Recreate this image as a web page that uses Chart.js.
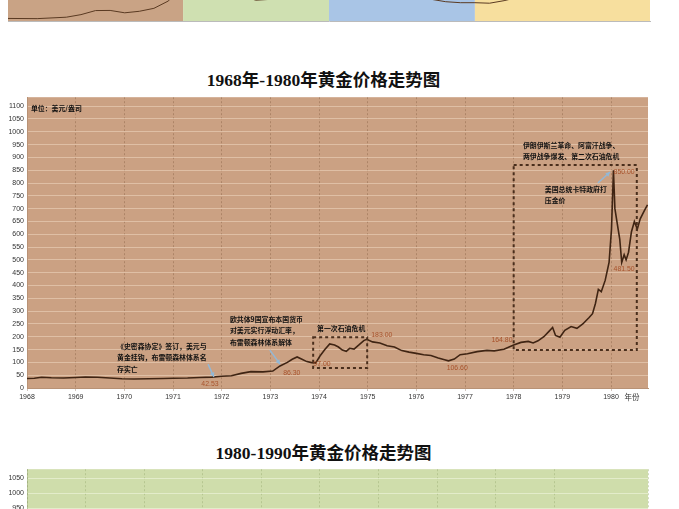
<!DOCTYPE html>
<html>
<head>
<meta charset="utf-8">
<script src="https://cdn.jsdelivr.net/npm/chart.js@4.4.0/dist/chart.umd.min.js"></script>
<style>
  html, body { margin: 0; padding: 0; background: #fff; width: 679px; height: 509px; overflow: hidden; position: relative; }
  canvas { position: absolute; left: 0; }
  .title { position: absolute; left: -16px; width: 679px; text-align: center; line-height: 20px;
           font-family: "Liberation Serif", "Noto Sans CJK SC", serif; font-weight: bold; font-size: 17.5px; color: #111; }
</style>
</head>
<body>
<canvas id="stripChart" width="679" height="30" style="top:0"></canvas>
<div class="title" style="top:70px">1968年-1980年黄金价格走势图</div>
<canvas id="goldChart" width="679" height="320" style="top:90px"></canvas>
<div class="title" style="top:443px">1980-1990年黄金价格走势图</div>
<canvas id="nextChart" width="679" height="352" style="top:462px"></canvas>
<script>
// 1968-1980 gold price (USD/oz)
const priceYears = [
  1968.00, 1968.15, 1968.30, 1968.50, 1968.75, 1969.00, 1969.20, 1969.45, 1969.70, 1969.95,
  1970.20, 1970.50, 1970.80, 1971.00, 1971.30, 1971.55, 1971.80, 1972.00, 1972.20, 1972.40,
  1972.60, 1972.85, 1973.05, 1973.20, 1973.35, 1973.45, 1973.55, 1973.65, 1973.75, 1973.85,
  1973.93, 1974.02, 1974.12, 1974.22, 1974.32, 1974.40, 1974.48, 1974.56, 1974.63, 1974.72,
  1974.82, 1974.92, 1974.98, 1975.10, 1975.25, 1975.40, 1975.55, 1975.70, 1975.85, 1976.00,
  1976.15, 1976.30, 1976.45, 1976.58, 1976.66, 1976.78, 1976.90, 1977.05, 1977.25, 1977.45,
  1977.60, 1977.80, 1978.00, 1978.15, 1978.30, 1978.40, 1978.50, 1978.62, 1978.72, 1978.80,
  1978.86, 1978.95, 1979.05, 1979.18, 1979.30, 1979.42, 1979.55, 1979.62, 1979.68, 1979.74,
  1979.80, 1979.88, 1979.96, 1980.01, 1980.05, 1980.08, 1980.13, 1980.18, 1980.22, 1980.27,
  1980.31, 1980.36, 1980.42, 1980.48, 1980.54, 1980.60, 1980.68, 1980.75
];
const priceValues = [
  37, 38, 42, 40, 39, 41, 43, 42, 39, 36,
  35, 36, 37, 38, 39, 41, 42.5, 46, 48, 57,
  64, 63, 66, 86, 100, 112, 121, 112, 103, 99,
  97, 125, 150, 172, 168, 160, 148, 143, 155, 152,
  168, 185, 190, 180, 176, 165, 160, 146, 140, 135,
  130, 127, 117, 110, 106, 113, 130, 134, 142, 147,
  145, 151, 168, 178, 182, 176, 184, 200, 220, 236,
  205, 198, 225, 240, 233, 250, 275, 290, 330, 385,
  376, 420, 490, 620, 850, 700, 640, 580, 490, 520,
  500, 530, 610, 650, 620, 660, 690, 715
];
const yearTicks = [1968, 1969, 1970, 1971, 1972, 1973, 1974, 1975, 1976, 1977, 1978, 1979, 1980];

// labelled prices: [year, value, text]
const priceLabels = [
  [1971.76, 16, '42.53'], [1973.44, 58, '86.30'], [1974.06, 93, '97.00'], [1975.29, 206, '183.00'],
  [1976.84, 78, '106.60'], [1977.76, 187, '164.80'], [1980.27, 843, '850.00'], [1980.27, 466, '481.50']
];
// event notes: [year, value, lines]
const eventNotes = [
  [1968.08, 1092, ['单位：美元/盎司']],
  [1969.85, 163, ['《史密森协定》签订，美元与', '黄金挂钩，布雷顿森林体系名', '存实亡']],
  [1972.17, 268, ['欧共体9国宣布本国货币', '对美元实行浮动汇率，', '布雷顿森林体系解体']],
  [1973.96, 233, ['第一次石油危机']],
  [1978.19, 948, ['伊朗伊斯兰革命、阿富汗战争、', '两伊战争爆发、第二次石油危机']],
  [1978.64, 777, ['美国总统卡特政府打', '压金价']]
];
// dashed boxes: [fromYear, toYear, low, high]
const crisisBoxes = [[1973.88, 1974.99, 78, 198], [1978.0, 1980.53, 148, 870]];
// arrows: [fromYear, fromValue, toYear, toValue]
const noteArrows = [[1971.72, 93, 1971.84, 43], [1972.99, 148, 1973.2, 93], [1979.73, 800, 1979.98, 843]];

// 1980-1990 (only the top of this chart is on screen)
const decadeYears = [1980, 1981, 1982, 1983, 1984, 1985, 1986, 1987, 1988, 1989, 1990];
const decadeValues = [615, 460, 376, 424, 360, 317, 368, 447, 437, 381, 383];

// overview strip at the top
const overviewYears = [1968, 1970, 1972, 1973, 1974, 1975, 1976, 1977, 1978, 1979, 1980, 1985, 1990, 1995, 1996, 1997, 1998, 1999, 2000, 2001, 2002, 2003, 2005, 2008, 2011];
const overviewValues = [39, 36, 58, 97, 159, 161, 125, 148, 193, 306, 615, 317, 383, 384, 388, 331, 294, 279, 279, 271, 310, 363, 445, 872, 1571];
const overviewBands = [[1968, 1980, '#c9a385'], [1980, 1990, '#cfe0b1'], [1990, 2000, '#a9c5e6'], [2000, 2012, '#f7df9e']];

const plotBg = {
  id: 'plotBg',
  beforeDraw(chart, args, opts) {
    const a = chart.chartArea, ctx = chart.ctx;
    const x = chart.scales.x;
    ctx.save();
    if (opts.bands) {
      opts.bands.forEach(b => {
        const l = x.getPixelForValue(b[0]), r = x.getPixelForValue(b[1]);
        ctx.fillStyle = b[2];
        ctx.fillRect(l, a.top, r - l, a.bottom - a.top);
      });
    } else if (opts.color) {
      ctx.fillStyle = opts.color;
      ctx.fillRect(a.left, a.top, a.right - a.left, a.bottom - a.top);
    }
    ctx.restore();
  }
};

const notes = {
  id: 'notes',
  afterDatasetsDraw(chart) {
    if (chart.canvas.id !== 'goldChart') return;
    const ctx = chart.ctx, x = chart.scales.x, y = chart.scales.y, a = chart.chartArea;
    ctx.save();
    // dashed boxes
    ctx.strokeStyle = '#4a2e1c';
    ctx.lineWidth = 2;
    ctx.setLineDash([3, 3]);
    crisisBoxes.forEach(b => {
      const l = x.getPixelForValue(b[0]), r = x.getPixelForValue(b[1]);
      const t = y.getPixelForValue(b[3]), btm = y.getPixelForValue(b[2]);
      ctx.strokeRect(l, t, r - l, btm - t);
    });
    ctx.setLineDash([]);
    // arrows
    ctx.strokeStyle = '#93b8d6';
    ctx.fillStyle = '#93b8d6';
    ctx.lineWidth = 1.5;
    noteArrows.forEach(n => {
      const x1 = x.getPixelForValue(n[0]), y1 = y.getPixelForValue(n[1]);
      const x2 = x.getPixelForValue(n[2]), y2 = y.getPixelForValue(n[3]);
      const ang = Math.atan2(y2 - y1, x2 - x1);
      ctx.beginPath();
      ctx.moveTo(x1, y1);
      ctx.lineTo(x2, y2);
      ctx.stroke();
      ctx.beginPath();
      ctx.moveTo(x2, y2);
      ctx.lineTo(x2 - 5 * Math.cos(ang - 0.5), y2 - 5 * Math.sin(ang - 0.5));
      ctx.lineTo(x2 - 5 * Math.cos(ang + 0.5), y2 - 5 * Math.sin(ang + 0.5));
      ctx.closePath();
      ctx.fill();
    });
    // notes
    ctx.fillStyle = '#111';
    ctx.font = 'bold 6.9px "Noto Sans CJK SC", sans-serif';
    ctx.textAlign = 'left';
    ctx.textBaseline = 'middle';
    eventNotes.forEach(n => {
      const px = x.getPixelForValue(n[0]), py = y.getPixelForValue(n[1]);
      n[2].forEach((line, i) => ctx.fillText(line, px, py + i * 11.5));
    });
    // price labels
    ctx.fillStyle = '#a8532c';
    ctx.font = '6.9px "Liberation Sans", sans-serif';
    ctx.textAlign = 'center';
    priceLabels.forEach(p => ctx.fillText(p[2], x.getPixelForValue(p[0]), y.getPixelForValue(p[1])));
    // axis title
    ctx.fillStyle = '#333';
    ctx.font = '7.5px "Noto Sans CJK SC", sans-serif';
    ctx.fillText('年份', a.right - 16, a.bottom + 9);
    ctx.restore();
  }
};

const tickFont = { family: '"Liberation Sans", sans-serif', size: 7 };

new Chart(document.getElementById('goldChart'), {
  type: 'line',
  data: {
    datasets: [{
      data: priceYears.map((yr, i) => ({ x: yr, y: priceValues[i] })),
      borderColor: '#3f2413',
      borderWidth: 1.6,
      pointRadius: 0,
      tension: 0
    }]
  },
  options: {
    responsive: false,
    animation: false,
    layout: { padding: { top: 5, right: 31, left: 0, bottom: 0 } },
    plugins: { legend: { display: false }, tooltip: { enabled: false }, plotBg: { color: '#cba183' } },
    scales: {
      x: {
        type: 'linear', min: 1968, max: 1980.76,
        afterBuildTicks: s => { s.ticks = yearTicks.map(v => ({ value: v })); },
        afterFit: s => { s.height = 22; },
        ticks: { font: tickFont, color: '#333', padding: 2, maxRotation: 0, autoSkip: false, callback: v => String(v) },
        grid: { color: 'rgba(105,65,40,0.3)', lineWidth: 1, tickLength: 3 },
        border: { color: '#b89276', dash: [2, 2] }
      },
      y: {
        min: 0, max: 1135,
        afterBuildTicks: s => { s.ticks = s.ticks.filter(t => t.value <= 1100); },
        afterFit: s => { s.width = 27; },
        ticks: { stepSize: 50, font: tickFont, color: '#333', padding: 3, callback: v => String(v) },
        grid: { color: 'rgba(236,212,188,0.6)', lineWidth: 1, drawTicks: false },
        border: { color: '#b89276' }
      }
    }
  },
  plugins: [plotBg, notes]
});

new Chart(document.getElementById('nextChart'), {
  type: 'line',
  data: {
    datasets: [{
      data: decadeYears.map((yr, i) => ({ x: yr, y: decadeValues[i] })),
      borderColor: '#3f2413',
      borderWidth: 1.6,
      pointRadius: 0
    }]
  },
  options: {
    responsive: false,
    animation: false,
    layout: { padding: { top: 6, right: 31, left: 0, bottom: 0 } },
    plugins: { legend: { display: false }, tooltip: { enabled: false }, plotBg: { color: '#cfddab' } },
    scales: {
      x: {
        type: 'linear', min: 1980, max: 1990.6,
        afterFit: s => { s.height = 22; },
        ticks: { stepSize: 1, font: tickFont, color: '#333', callback: v => String(v) },
        grid: { color: 'rgba(150,170,110,0.45)' },
        border: { dash: [2, 2] }
      },
      y: {
        min: 0, max: 1080,
        afterBuildTicks: s => { s.ticks = s.ticks.filter(t => t.value <= 1050); },
        afterFit: s => { s.width = 27; },
        ticks: { stepSize: 50, font: tickFont, color: '#333', padding: 3, callback: v => String(v) },
        grid: { color: 'rgba(235,242,215,0.7)', drawTicks: false }
      }
    }
  },
  plugins: [plotBg]
});

new Chart(document.getElementById('stripChart'), {
  type: 'line',
  data: {
    datasets: [{
      data: overviewYears.map((yr, i) => ({ x: yr, y: overviewValues[i] })),
      borderColor: '#5a3a22',
      borderWidth: 1,
      pointRadius: 0
    }]
  },
  options: {
    responsive: false,
    animation: false,
    layout: { padding: { top: 0, right: 29, left: 8, bottom: 0 } },
    plugins: { legend: { display: false }, tooltip: { enabled: false }, plotBg: { bands: overviewBands } },
    scales: {
      x: {
        type: 'linear', min: 1968, max: 2012,
        afterFit: s => { s.height = 9; },
        ticks: { stepSize: 1, autoSkip: false, maxRotation: 0, font: { size: 3 }, color: '#777', padding: 1, callback: v => String(v) },
        grid: { display: false },
        border: { color: '#bbb' }
      },
      y: { display: false, min: 0, max: 320 }
    }
  },
  plugins: [plotBg]
});
</script>
</body>
</html>
